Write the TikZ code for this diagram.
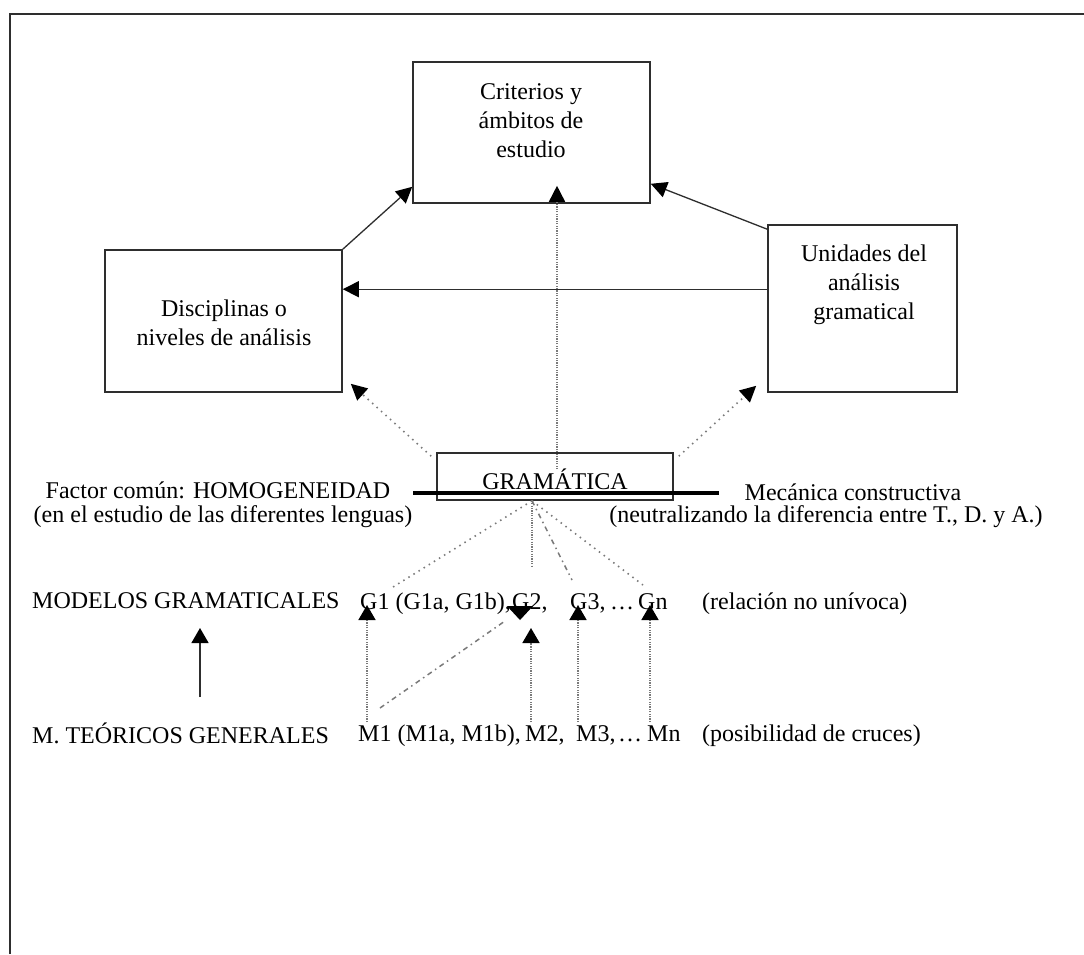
\documentclass[tikz,border=0pt]{standalone}
\usepackage{fontspec}
\setmainfont{Liberation Serif}
\usetikzlibrary{arrows.meta,calc}
\definecolor{ln}{HTML}{2E2E2E}
\definecolor{dt}{HTML}{7A7A7A}
\tikzset{
  box/.style={draw=ln, line width=1.6pt, inner sep=0pt},
  txt/.style={font=\fontsize{24}{29}\selectfont, inner sep=0pt, text=black, align=center},
  tip/.style={-{Triangle[length=16pt,width=16pt,color=black]}},
  solidc/.style={draw=ln, line width=1.3pt},
  densedot/.style={draw=dt, line width=1.6pt, dash pattern=on 1.2pt off 1.2pt},
  sparsedot/.style={draw=dt, line width=1.6pt, dash pattern=on 1.5pt off 4.5pt},
  dashdot/.style={draw=dt, line width=1.5pt, dash pattern=on 5pt off 4pt on 1.5pt off 4pt},
}
\begin{document}
\begin{tikzpicture}[x=1pt,y=-1pt]
\useasboundingbox (0,0) rectangle (1084,954);
\fill[white] (0,0) rectangle (1084,954);
% frame
\draw[line width=2pt, color=ln] (10,954) -- (10,14) -- (1084,14);

% boxes
\node[box, minimum width=237pt, minimum height=141pt] (crit) at (531.5,132.5) {};
\node[txt] (critT) at (531,121) {Criterios y\\ámbitos de\\estudio};
\node[box, minimum width=237pt, minimum height=142pt] (disc) at (223.5,321) {};
\node[txt] (discT) at (224,323) {Disciplinas o\\niveles de análisis};
\node[box, minimum width=189pt, minimum height=167pt] (unid) at (862.5,308.5) {};
\node[txt] (unidT) at (864,285) {Unidades del\\análisis\\gramatical};
\node[box, minimum width=236pt, minimum height=47pt] (gram) at (555,476.5) {};
\node[txt] (gramT) at (555,479) {GRAMÁTICA};

% side texts
\node[txt] (fac) at (218,490) {Factor común: HOMOGENEIDAD};
\node[txt] (fac2) at (223,517) {(en el estudio de las diferentes lenguas)};
\node[txt] (mec) at (853,492) {Mecánica constructiva};
\node[txt] (mec2) at (826,517) {(neutralizando la diferencia entre T., D. y A.)};
\coordinate (thL) at (413,493);
\coordinate (thR) at (719,493);
\draw[line width=4pt, black] (thL) -- (thR);

% rows
\node[txt, anchor=base west] (mg) at (32,608) {MODELOS GRAMATICALES};
\node[txt, anchor=base west] (g1) at (360,609) {G1 (G1a, G1b),};
\node[txt, anchor=base west] (g2) at (512,609) {G2,};
\node[txt, anchor=base west] (g3) at (570,609) {G3,};
\node[txt, anchor=base west] (gd) at (610,609) {\dots};
\node[txt, anchor=base west] (gn) at (638,609) {Gn};
\node[txt, anchor=base west] (rel) at (702,609) {(relación no unívoca)};

\node[txt, anchor=base west] (mt) at (32,743) {M. TEÓRICOS GENERALES};
\node[txt, anchor=base west] (m1) at (358,741) {M1 (M1a, M1b),};
\node[txt, anchor=base west] (m2) at (525,741) {M2,};
\node[txt, anchor=base west] (m3) at (576,741) {M3,};
\node[txt, anchor=base west] (md) at (618,741) {\dots};
\node[txt, anchor=base west] (mn) at (647,741) {Mn};
\node[txt, anchor=base west] (pos) at (702,741) {(posibilidad de cruces)};

% upper connectors
\draw[solidc, tip] (disc.north east) -- ($(crit.south west)+(0,-17)$);
\draw[solidc, tip] ($(unid.north west)+(0,5)$) -- ($(crit.south east)+(0,-20)$);
\draw[solidc, tip] ($(unid.north west)+(0,65)$) -- ($(disc.north east)+(0,40)$);
\draw[densedot, tip] ($(gram.north)+(2,17)$) -- ($(crit.south)+(25.5,-18)$);
\draw[sparsedot, tip] ($(gram.north west)+(-5,4)$) -- ($(disc.south east)+(8,-9)$);
\draw[sparsedot, tip] ($(gram.north east)+(5,4)$) -- ($(unid.south west)+(-11,-7)$);

% fan from GRAMATICA
\coordinate (gb) at ($(gram.south)+(-23,0)$);
\draw[sparsedot] (gb) -- ($(g1.base west)+(33,-22)$);
\draw[densedot] (gb) -- ($(gb)+(0,65)$);
\draw[dashdot] (gb) -- ($(g3.base west)+(2,-29)$);
\draw[sparsedot] (gb) -- ($(gn.base west)+(5,-24)$);

% lower connectors
\tikzset{tipS/.style={-{Triangle[length=15pt,width=17pt,color=black]}}}
\draw[densedot, tipS] ($(m1.base west)+(9,-19)$) -- ($(g1.base west)+(7,-4)$);
\draw[densedot, tipS] ($(m2.base west)+(6,-19)$) -- ($(g2.base west)+(19,19)$);
\draw[densedot, tipS] ($(m3.base west)+(2,-19)$) -- ($(g3.base west)+(8,-4)$);
\draw[densedot, tipS] ($(mn.base west)+(3,-19)$) -- ($(gn.base west)+(12,-4)$);
\draw[dashdot] ($(m1.base west)+(22,-33)$) -- ($(g2.base west)+(-7,12)$);
\fill[black] ($(g2.base west)+(-5,-3)$) -- ($(g2.base west)+(21,-3)$) -- ($(g2.base west)+(8,11)$) -- cycle;
\draw[solidc, tipS] ($(mt.base west)+(168,-46)$) -- ($(mg.base west)+(168,20)$);
\end{tikzpicture}
\end{document}
